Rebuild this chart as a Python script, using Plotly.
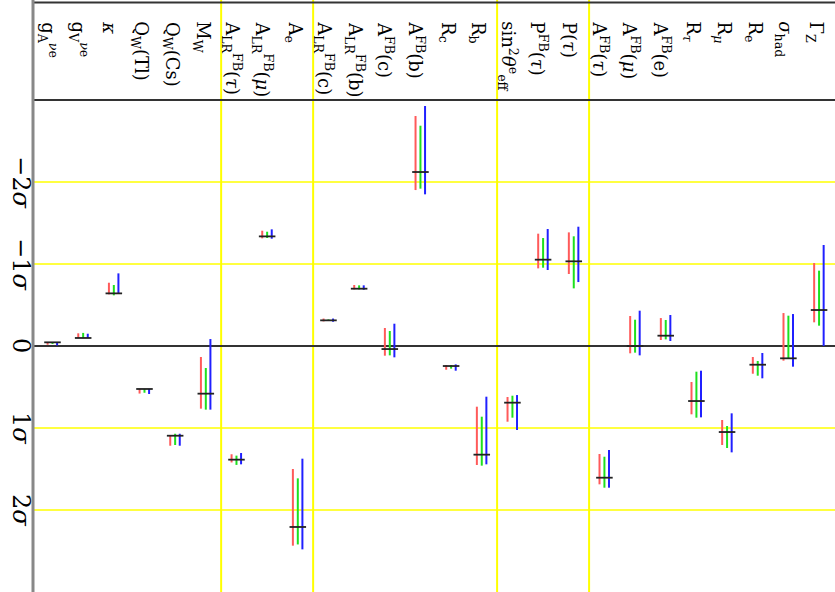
import plotly.graph_objects as go

labels = [
    "g<sub>A</sub><sup><i>ν</i>e</sup>", "g<sub>V</sub><sup><i>ν</i>e</sup>", "<i>κ</i>",
    "Q<sub>W</sub>(Tl)", "Q<sub>W</sub>(Cs)", "M<sub>W</sub>",
    "A<sub>LR</sub><sup>FB</sup>(<i>τ</i>)", "A<sub>LR</sub><sup>FB</sup>(<i>μ</i>)", "A<sub>e</sub>",
    "A<sub>LR</sub><sup>FB</sup>(c)", "A<sub>LR</sub><sup>FB</sup>(b)", "A<sup>FB</sup>(c)",
    "A<sup>FB</sup>(b)", "R<sub>c</sub>", "R<sub>b</sub>",
    "sin<sup>2</sup><i>θ</i><sup>e</sup><sub>eff</sub>", "P<sup>FB</sup>(<i>τ</i>)", "P(<i>τ</i>)",
    "A<sup>FB</sup>(<i>τ</i>)", "A<sup>FB</sup>(<i>μ</i>)", "A<sup>FB</sup>(e)",
    "R<sub><i>τ</i></sub>", "R<sub><i>μ</i></sub>", "R<sub>e</sub>",
    "<i>σ</i><sub>had</sub>", "Γ<sub>Z</sub>",
]

center = [-0.045, -0.098, -0.642, 0.524, 1.094, 0.581,
          1.386, -1.337, 2.207,
          -0.313, -0.699, 0.037, -2.122, 0.244, 1.325,
          0.691, -1.053, -1.033,
          1.606, 0.0, -0.126, 0.671, 1.049, 0.228, 0.15, -0.439]

red_lo = [-0.045, -0.155, -0.772, 0.524, 1.094, 0.134,
          1.32, -1.406, 1.5,
          -0.335, -0.744, -0.22, -2.805, 0.232, 0.74,
          0.622, -1.37, -1.386,
          1.317, -0.366, -0.341, 0.439, 0.902, 0.134, -0.402, -1.012]
red_hi = [-0.016, -0.098, -0.63, 0.58, 1.216, 0.764,
          1.42, -1.313, 2.435,
          -0.30, -0.69, 0.118, -1.902, 0.289, 1.451,
          0.923, -0.947, -0.878,
          1.687, 0.089, -0.073, 0.833, 1.207, 0.338, 0.179, -0.289]

green_lo = [-0.045, -0.16, -0.744, 0.524, 1.07, 0.268,
            1.337, -1.394, 1.614,
            -0.325, -0.74, -0.183, -2.687, 0.232, 0.862,
            0.606, -1.317, -1.338,
            1.35, -0.321, -0.317, 0.313, 0.976, 0.183, -0.37, -0.919]
green_hi = [-0.025, -0.098, -0.618, 0.57, 1.207, 0.776,
            1.45, -1.317, 2.42,
            -0.305, -0.69, 0.114, -1.919, 0.276, 1.459,
            0.874, -0.955, -0.703,
            1.728, 0.081, -0.081, 0.874, 1.244, 0.362, 0.15, -0.248]

blue_lo = [-0.045, -0.15, -0.886, 0.524, 1.07, -0.085,
           1.305, -1.423, 1.374,
           -0.335, -0.74, -0.272, -2.927, 0.224, 0.618,
           0.598, -1.427, -1.455,
           1.268, -0.431, -0.378, 0.301, 0.821, 0.085, -0.39, -1.232]
blue_hi = [-0.008, -0.098, -0.642, 0.585, 1.216, 0.776,
           1.443, -1.309, 2.48,
           -0.296, -0.686, 0.138, -1.85, 0.301, 1.443,
           1.024, -0.927, -0.78,
           1.728, 0.114, -0.061, 0.87, 1.297, 0.394, 0.252, 0.0]

sigma_ticks = [-2, -1, 0, 1, 2]
sigma_text = ["−2<i>σ</i>", "−1<i>σ</i>", "0", "1<i>σ</i>", "2<i>σ</i>"]
separators = [5.5, 8.5, 14.5, 17.5]

FONT = "DejaVu Serif, Liberation Serif, serif"
idx = list(range(len(labels)))


def segs(offset, lo, hi):
    xs, ys = [], []
    for i, a, b in zip(idx, lo, hi):
        xs += [i + offset, i + offset, None]
        ys += [a, b, None]
    return xs, ys


fig = go.Figure()

for off, lo, hi, col in [(-0.16, red_lo, red_hi, "#ff5a5a"),
                         (0.0, green_lo, green_hi, "#1ee01e"),
                         (0.15, blue_lo, blue_hi, "#2020ff")]:
    xs, ys = segs(off, lo, hi)
    fig.add_trace(go.Scatter(x=xs, y=ys, mode="lines",
                             line=dict(color=col, width=2),
                             hoverinfo="skip", showlegend=False))

tx, ty = [], []
for i, c in zip(idx, center):
    tx += [i - 0.27, i + 0.27, None]
    ty += [c, c, None]
fig.add_trace(go.Scatter(x=tx, y=ty, mode="lines",
                         line=dict(color="#222222", width=1.8),
                         hoverinfo="skip", showlegend=False))

shapes = []
for t in [-2, -1, 1, 2]:
    shapes.append(dict(type="line", xref="paper", x0=0, x1=1, yref="y", y0=t, y1=t,
                       line=dict(color="#ffff00", width=1.5), layer="below"))
for s in separators:
    shapes.append(dict(type="line", xref="x", x0=s, x1=s, yref="paper", y0=0, y1=1,
                       line=dict(color="#ffff00", width=2), layer="below"))
shapes.append(dict(type="line", xref="paper", x0=0, x1=1, yref="y", y0=0, y1=0,
                   line=dict(color="#333333", width=2), layer="below"))
shapes.append(dict(type="line", xref="paper", x0=0, x1=1, yref="y", y0=-3, y1=-3,
                   line=dict(color="#333333", width=2)))
shapes.append(dict(type="line", xref="paper", x0=0, x1=1, yref="y", y0=-4.19, y1=-4.19,
                   line=dict(color="#333333", width=2)))
shapes.append(dict(type="line", xref="paper", x0=0, x1=0, yref="paper", y0=0, y1=1,
                   line=dict(color="#888888", width=3)))

annotations = []
for i, lab in zip(idx, labels):
    annotations.append(dict(x=i, y=-3.98, xref="x", yref="y", text=lab,
                            showarrow=False, textangle=90, xshift=-4,
                            xanchor="center", yanchor="top",
                            font=dict(family=FONT, size=18, color="black")))
for t, s in zip(sigma_ticks, sigma_text):
    annotations.append(dict(x=-0.015, y=t, xref="paper", yref="y", text=s,
                            showarrow=False, textangle=90,
                            xanchor="center", yanchor="middle",
                            font=dict(family=FONT, size=24, color="black")))

fig.update_layout(
    width=835, height=592,
    margin=dict(l=33, r=0, t=0, b=0),
    paper_bgcolor="white", plot_bgcolor="white",
    xaxis=dict(range=[-0.636, 25.52], visible=False, showgrid=False, zeroline=False),
    yaxis=dict(range=[3.0, -4.22], visible=False, showgrid=False, zeroline=False),
    shapes=shapes, annotations=annotations,
)

fig.write_html("out.html", config={"displayModeBar": False},
               post_script="document.body.style.margin='0';")
